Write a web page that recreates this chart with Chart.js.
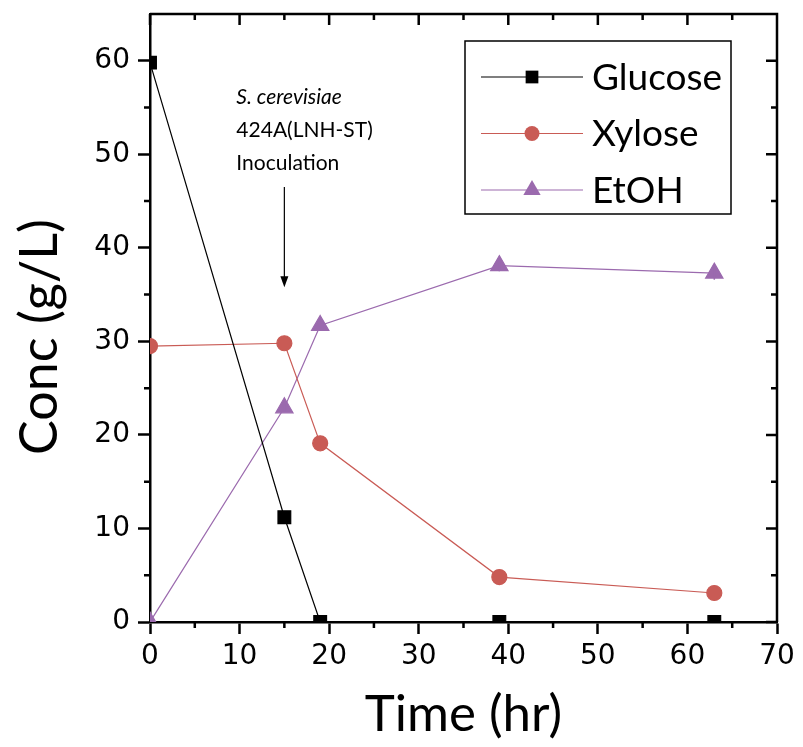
<!DOCTYPE html>
<html>
<head>
<meta charset="utf-8">
<script src="https://cdn.jsdelivr.net/npm/chart.js@4.4.1/dist/chart.umd.min.js"></script>
<style>
  html, body { margin: 0; padding: 0; background: #fff; }
  #wrap { width: 803px; height: 747px; }
</style>
</head>
<body>
<div id="wrap"><canvas id="c" width="803" height="747"></canvas></div>
<script>
// ── data ──
const timeHr   = [0, 15, 19, 39, 63];
const glucose  = [59.8, 11.2, 0, 0, 0];
const xylose   = [29.5, 29.8, 19.1, 4.8, 3.1];
const etoh     = [0, 22.9, 31.7, 38.1, 37.3];
const etohErr  = [0, 0.4, 0, 0.6, 0.7];

const xTicks = [0, 10, 20, 30, 40, 50, 60, 70];
const yTicks = [0, 10, 20, 30, 40, 50, 60];
const xMinor = [5, 15, 25, 35, 45, 55, 65];
const yMinor = [5, 15, 25, 35, 45, 55];

const xTitle = 'Time (hr)';
const yTitle = 'Conc (g/L)';
const noteLines = ['S. cerevisiae', '424A(LNH-ST)', 'Inoculation'];
const noteX = 15;

const C_GLU = '#000000';
const C_XYL = '#c95b55';
const C_ETO = '#9b6aae';

const pts = arr => arr.map((v, i) => ({ x: timeHr[i], y: v }));

// frame, minor ticks, inner ticks on top/right
const framePlugin = {
  id: 'frame',
  afterDraw(chart) {
    const { ctx, chartArea: a, scales: { x, y } } = chart;
    ctx.save();
    ctx.strokeStyle = '#000';
    ctx.lineWidth = 2.5;
    ctx.beginPath();
    ctx.moveTo(a.left, a.top); ctx.lineTo(a.right, a.top); ctx.lineTo(a.right, a.bottom);
    yMinor.forEach(v => { const p = y.getPixelForValue(v); ctx.moveTo(a.left, p); ctx.lineTo(a.left - 6, p); });
    xMinor.forEach(v => { const p = x.getPixelForValue(v); ctx.moveTo(p, a.bottom); ctx.lineTo(p, a.bottom + 6); });
    yTicks.forEach(v => { const p = y.getPixelForValue(v); ctx.moveTo(a.right, p); ctx.lineTo(a.right - 11, p); });
    yMinor.forEach(v => { const p = y.getPixelForValue(v); ctx.moveTo(a.right, p); ctx.lineTo(a.right - 6, p); });
    xTicks.forEach(v => { const p = x.getPixelForValue(v); ctx.moveTo(p, a.top); ctx.lineTo(p, a.top + 11); });
    xMinor.forEach(v => { const p = x.getPixelForValue(v); ctx.moveTo(p, a.top); ctx.lineTo(p, a.top + 6); });
    ctx.stroke();

    // axis titles
    ctx.fillStyle = '#000';
    ctx.textAlign = 'center';
    ctx.textBaseline = 'middle';
    ctx.font = '51px Lato';
    ctx.fillText(xTitle, (a.left + a.right) / 2, 715);
    ctx.translate(40, 337);
    ctx.rotate(-Math.PI / 2);
    ctx.font = '52px Lato';
    ctx.fillText(yTitle, 0, 0);
    ctx.restore();
  }
};

// small error whiskers on EtOH
const errPlugin = {
  id: 'errbars',
  afterDatasetsDraw(chart) {
    const { ctx, scales: { x, y } } = chart;
    ctx.save();
    ctx.strokeStyle = C_ETO;
    ctx.lineWidth = 1.5;
    ctx.beginPath();
    etoh.forEach((v, i) => {
      if (!etohErr[i]) return;
      const px = x.getPixelForValue(timeHr[i]);
      ctx.moveTo(px, y.getPixelForValue(v - etohErr[i]));
      ctx.lineTo(px, y.getPixelForValue(v + etohErr[i]));
    });
    ctx.stroke();
    ctx.restore();
  }
};

// inoculation note + arrow
const notePlugin = {
  id: 'note',
  afterDraw(chart) {
    const { ctx, scales: { x, y } } = chart;
    const px = x.getPixelForValue(noteX);
    ctx.save();
    ctx.fillStyle = '#000';
    ctx.textBaseline = 'middle';
    ctx.textAlign = 'left';
    noteLines.forEach((t, i) => {
      ctx.font = (i === 0 ? 'italic ' : '') + '21px Lato';
      ctx.fillText(t, px - 48, 97 + i * 33);
    });
    const y0 = y.getPixelForValue(46.5), y1 = y.getPixelForValue(35.8);
    ctx.strokeStyle = '#000';
    ctx.lineWidth = 1.2;
    ctx.beginPath(); ctx.moveTo(px, y0); ctx.lineTo(px, y1 - 8); ctx.stroke();
    ctx.beginPath(); ctx.moveTo(px - 4, y1 - 11); ctx.lineTo(px + 4, y1 - 11); ctx.lineTo(px, y1); ctx.closePath(); ctx.fill();
    ctx.restore();
  }
};

// boxed legend inside the plot
const legendPlugin = {
  id: 'boxLegend',
  afterDraw(chart) {
    const { ctx } = chart;
    const bx = 465, by = 41, bw = 266, bh = 173;
    ctx.save();
    ctx.fillStyle = '#fff';
    ctx.fillRect(bx, by, bw, bh);
    ctx.strokeStyle = '#000';
    ctx.lineWidth = 1.5;
    ctx.strokeRect(bx, by, bw, bh);
    chart.data.datasets.forEach((ds, i) => {
      const cy = 77 + i * 56.5;
      ctx.strokeStyle = ds.borderColor;
      ctx.lineWidth = 1.2;
      ctx.beginPath(); ctx.moveTo(481, cy); ctx.lineTo(583, cy); ctx.stroke();
      ctx.fillStyle = ds.pointBackgroundColor;
      Chart.helpers.drawPoint(ctx, { pointStyle: ds.pointStyle, radius: ds.pointRadius, rotation: 0, borderWidth: 0 }, 532, cy);
      ctx.fillStyle = '#000';
      ctx.font = '37px Lato';
      ctx.textBaseline = 'middle';
      ctx.textAlign = 'left';
      ctx.fillText(ds.label, 592, cy + 1);
    });
    ctx.restore();
  }
};

new Chart(document.getElementById('c'), {
  type: 'line',
  data: {
    datasets: [
      { label: 'Glucose', data: pts(glucose), borderColor: C_GLU, pointBackgroundColor: C_GLU,
        pointBorderColor: C_GLU, pointStyle: 'rect', pointRadius: 9, borderWidth: 1.2, clip: 0 },
      { label: 'Xylose', data: pts(xylose), borderColor: C_XYL, pointBackgroundColor: C_XYL,
        pointBorderColor: C_XYL, pointStyle: 'circle', pointRadius: 7.5, borderWidth: 1.2, clip: 0 },
      { label: 'EtOH', data: pts(etoh), borderColor: C_ETO, pointBackgroundColor: C_ETO,
        pointBorderColor: C_ETO, pointStyle: 'triangle', pointRadius: 10, borderWidth: 1.2, clip: 0 }
    ]
  },
  options: {
    responsive: false,
    animation: false,
    layout: { padding: { top: 14, right: 26, left: 0, bottom: 0 } },
    plugins: { legend: { display: false }, tooltip: { enabled: false } },
    elements: { point: { borderWidth: 0, hoverRadius: 0 }, line: { tension: 0 } },
    scales: {
      x: {
        type: 'linear', min: 0, max: 70,
        afterBuildTicks: s => { s.ticks = xTicks.map(v => ({ value: v })); },
        afterFit: s => { s.height = 125; s.paddingLeft = 0; s.paddingRight = 0; },
        border: { color: '#000', width: 2.5 },
        grid: { drawOnChartArea: false, tickLength: 12, tickWidth: 2.5, tickColor: '#000' },
        ticks: { color: '#000', font: { family: 'DejaVu Sans', size: 28 }, padding: 6, maxRotation: 0 }
      },
      y: {
        type: 'linear', min: 0, max: 65,
        afterBuildTicks: s => { s.ticks = yTicks.map(v => ({ value: v })); },
        afterFit: s => { s.width = 150; s.paddingTop = 0; s.paddingBottom = 0; },
        border: { color: '#000', width: 2.5 },
        grid: { drawOnChartArea: false, tickLength: 12, tickWidth: 2.5, tickColor: '#000' },
        ticks: { color: '#000', font: { family: 'DejaVu Sans', size: 28 }, padding: 8 }
      }
    }
  },
  plugins: [framePlugin, errPlugin, notePlugin, legendPlugin]
});
</script>
</body>
</html>
